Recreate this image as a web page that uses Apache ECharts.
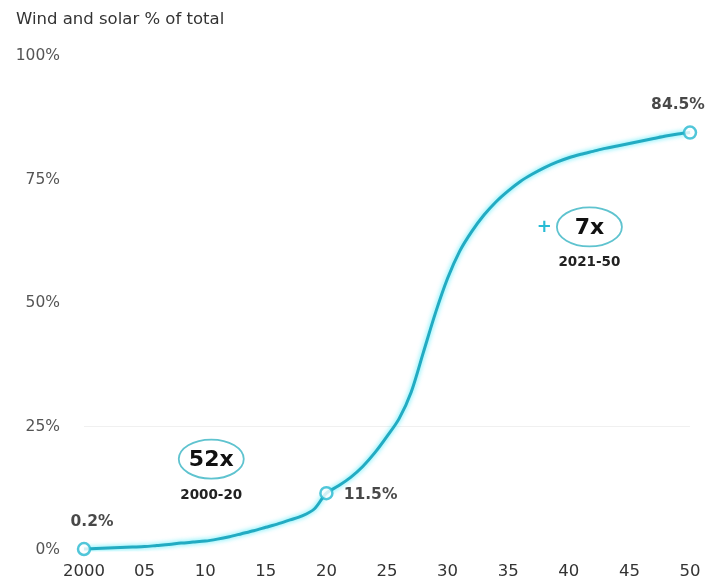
<!DOCTYPE html>
<html>
<head>
<meta charset="utf-8">
<script src="https://cdn.jsdelivr.net/npm/echarts@6/dist/echarts.min.js"></script>
<style>
html,body{margin:0;padding:0;background:#fff;}
#main{width:708px;height:585px;}
</style>
</head>
<body>
<div id="main"></div>
<script>
// Data
const years = [2000,2001,2002,2003,2004,2005,2006,2007,2008,2009,2010,2011,2012,2013,2014,2015,2016,2017,2018,2019,2020,
  2021,2022,2023,2024,2025,2026,2027,2028,2029,2030,2031,2032,2033,2034,2035,2036,2037,2038,2039,2040,
  2041,2042,2043,2044,2045,2046,2047,2048,2049,2050];
const share = [0.2,0.3,0.4,0.5,0.6,0.7,0.9,1.1,1.4,1.6,1.8,2.2,2.7,3.3,3.9,4.6,5.3,6.1,6.9,8.3,11.5,
  13.0,14.7,16.9,19.7,23.0,26.6,32.0,40.0,48.0,55.0,60.5,64.5,67.8,70.5,72.7,74.6,76.1,77.4,78.5,79.4,
  80.1,80.7,81.3,81.8,82.3,82.8,83.3,83.8,84.2,84.5];
const markedYears = [2000, 2020, 2050];
const markedLabels = ['0.2%', '11.5%', '84.5%'];
const yTicks = [0, 25, 50, 75, 100];
const xTickLabels = ['2000','05','10','15','20','25','30','35','40','45','50'];
const annotations = [
  {year: 2010.5, value: 18.4, big: '52x', small: '2000-20', plus: false},
  {year: 2041.7, value: 65.4, big: '7x', small: '2021-50', plus: true}
];
const titleText = 'Wind and solar % of total';

const lineColor = '#22abc2';
const glowColor = 'rgba(0,225,245,0.75)';
const FONT = '"DejaVu Sans", Arial, sans-serif';
const chart = echarts.init(document.getElementById('main'));

const lineData = years.map((y, i) => [y, share[i]]);
const markData = markedYears.map((y, i) => ({
  value: [y, share[years.indexOf(y)]],
  label: {
    show: true,
    formatter: markedLabels[i],
    position: i === 1 ? 'right' : 'top',
    distance: i === 1 ? 10 : 12,
    offset: i === 0 ? [8, 0] : (i === 2 ? [-12, 0] : [0, 2])
  }
}));

chart.setOption({
  animation: false,
  title: {
    text: titleText, left: 11, top: 6,
    textStyle: {fontFamily: FONT, fontSize: 16.5, fontWeight: 'normal', color: '#333'}
  },
  grid: {left: 84, right: 18, top: 56, bottom: 35},
  xAxis: {
    type: 'value', min: 2000, max: 2050, interval: 5,
    axisLine: {show: false}, axisTick: {show: false}, splitLine: {show: false},
    axisLabel: {
      margin: 13, color: '#333', fontSize: 16.5, fontFamily: FONT,
      formatter: v => xTickLabels[Math.round((v - 2000) / 5)]
    }
  },
  yAxis: {
    type: 'value', min: 0, max: 100, interval: 25,
    axisLine: {show: false}, axisTick: {show: false},
    splitLine: {show: true, lineStyle: {color: ['transparent', '#f0f0f0', 'transparent', 'transparent', 'transparent'], width: 1}},
    axisLabel: {
      margin: 24, color: '#555', fontSize: 15.5, fontFamily: FONT,
      formatter: v => yTicks.indexOf(v) >= 0 ? v + '%' : ''
    }
  },
  series: [
    {
      type: 'line', data: lineData, smooth: 0.3, showSymbol: false, symbol: 'none',
      lineStyle: {color: lineColor, width: 3, shadowColor: glowColor, shadowBlur: 5},
      z: 2
    },
    {
      type: 'scatter', data: markData, symbol: 'circle', symbolSize: 12,
      itemStyle: {color: '#fff', borderColor: '#26b8d0', borderWidth: 2.5},
      label: {color: '#1a1a1a', fontSize: 15.5, fontWeight: 'bold', fontFamily: FONT},
      z: 3
    }
  ]
});

const gfx = [];
annotations.forEach(a => {
  const p = chart.convertToPixel({gridIndex: 0}, [a.year, a.value]);
  gfx.push({
    type: 'ellipse', shape: {cx: p[0], cy: p[1], rx: 32.5, ry: 19.5},
    style: {fill: 'none', stroke: '#5fc3cf', lineWidth: 1.8}
  });
  gfx.push({
    type: 'text', x: p[0], y: p[1] + 1,
    style: {text: a.big, fill: '#111', font: 'bold 22px ' + FONT, align: 'center', verticalAlign: 'middle'}
  });
  gfx.push({
    type: 'text', x: p[0], y: p[1] + 36,
    style: {text: a.small, fill: '#222', font: 'bold 13.5px ' + FONT, align: 'center', verticalAlign: 'middle'}
  });
  if (a.plus) {
    gfx.push({
      type: 'text', x: p[0] - 45, y: p[1],
      style: {text: '+', fill: '#27bcd5', font: 'bold 18px ' + FONT, align: 'center', verticalAlign: 'middle'}
    });
  }
});
chart.setOption({graphic: gfx});
</script>
</body>
</html>
